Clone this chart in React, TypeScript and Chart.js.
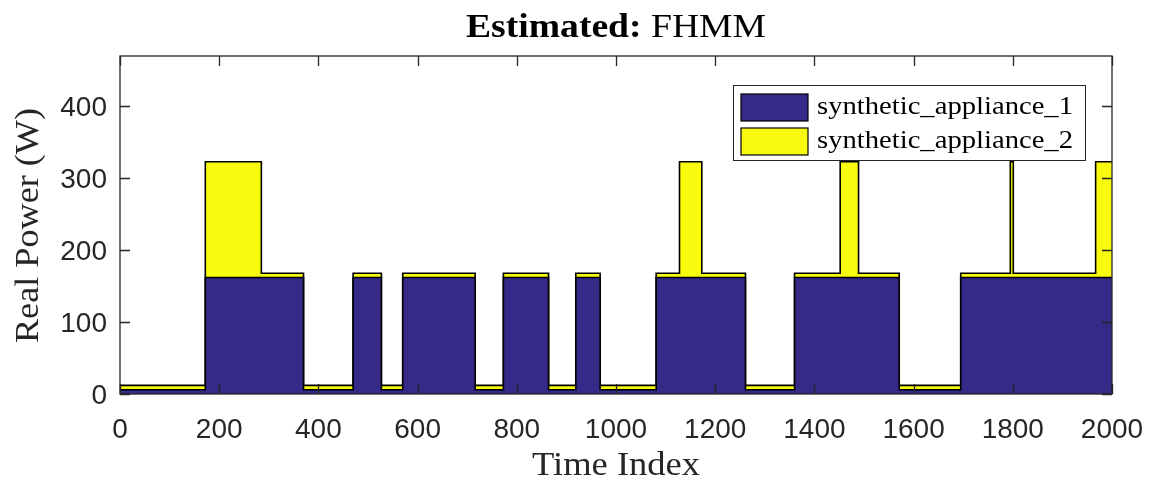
import React, { useEffect, useRef } from "react";
import { Chart, registerables } from "chart.js";

Chart.register(...registerables);

// ---- data ----
const app1Edges = [0, 172, 370, 470, 527, 570, 716, 773, 864, 919, 968, 1081, 1261, 1360, 1571, 1695, 2000];
const app1Levels = [6, 162, 6, 162, 6, 162, 6, 162, 6, 162, 6, 162, 6, 162, 6, 162];
const app2Edges = [0, 172, 285, 1128, 1173, 1452, 1489, 1795, 1801, 1967, 2000];
const app2Levels = [6, 161, 6, 161, 6, 161, 6, 161, 6, 161];
const seriesNames = ["synthetic_appliance_1", "synthetic_appliance_2"];
const xTicks = [0, 200, 400, 600, 800, 1000, 1200, 1400, 1600, 1800, 2000];
const yTicks = [0, 100, 200, 300, 400];
const titleBold = "Estimated:";
const titleRest = " FHMM";
const xTitle = "Time Index";
const yTitle = "Real Power (W)";

const BLUE = "#352A87";
const YELLOW = "#F9FB0E";
const AXIS = "#262626";
const SERIF = "'Liberation Serif', 'DejaVu Serif', serif";
const SANS = "'Liberation Sans', Arial, sans-serif";

function levelAt(edges: number[], levels: number[], x: number) {
  for (let i = 0; i < levels.length; i++) {
    if (x >= edges[i] && x < edges[i + 1]) return levels[i];
  }
  return levels[levels.length - 1];
}

function buildData() {
  const all = Array.from(new Set([...app1Edges, ...app2Edges])).sort((a, b) => a - b);
  const d1: { x: number; y: number }[] = [];
  const d2: { x: number; y: number }[] = [];
  for (let i = 0; i < all.length - 1; i++) {
    const mid = (all[i] + all[i + 1]) / 2;
    const a = levelAt(app1Edges, app1Levels, mid);
    const b = levelAt(app2Edges, app2Levels, mid);
    d1.push({ x: all[i], y: a }, { x: all[i + 1], y: a });
    d2.push({ x: all[i], y: a + b }, { x: all[i + 1], y: a + b });
  }
  return { d1, d2 };
}

// draw text at (x,y) left-aligned, stretched horizontally by sx
function drawStretched(ctx: CanvasRenderingContext2D, text: string, x: number, y: number, sx: number) {
  ctx.save();
  ctx.translate(x, y);
  ctx.scale(sx, 1);
  ctx.textAlign = "left";
  ctx.fillText(text, 0, 0);
  ctx.restore();
}

const decorPlugin = {
  id: "decor",
  afterDatasetsDraw(chart: any) {
    const ctx = chart.ctx as CanvasRenderingContext2D;
    const { left, right, top, bottom } = chart.chartArea;
    const xs = chart.scales.x;
    const ys = chart.scales.y;
    ctx.save();
    // box
    ctx.strokeStyle = AXIS;
    ctx.lineWidth = 1.3;
    ctx.strokeRect(left, top, right - left, bottom - top);
    // ticks inward
    const tl = 10;
    ctx.beginPath();
    xTicks.forEach((v) => {
      const px = Math.round(xs.getPixelForValue(v)) + 0.5;
      ctx.moveTo(px, bottom);
      ctx.lineTo(px, bottom - tl);
      ctx.moveTo(px, top);
      ctx.lineTo(px, top + tl);
    });
    yTicks.forEach((v) => {
      const py = Math.round(ys.getPixelForValue(v)) + 0.5;
      ctx.moveTo(left, py);
      ctx.lineTo(left + tl, py);
      ctx.moveTo(right, py);
      ctx.lineTo(right - tl, py);
    });
    ctx.stroke();

    // legend
    const lx = 733, ly = 85, lw = 352, lh = 75;
    ctx.fillStyle = "#ffffff";
    ctx.fillRect(lx, ly, lw, lh);
    ctx.strokeStyle = AXIS;
    ctx.lineWidth = 1;
    ctx.strokeRect(lx + 0.5, ly + 0.5, lw, lh);
    const swatches = [BLUE, YELLOW];
    ctx.textBaseline = "alphabetic";
    seriesNames.forEach((name, i) => {
      const sy = 94 + i * 34;
      ctx.fillStyle = swatches[i];
      ctx.fillRect(741, sy, 67, 27);
      ctx.strokeStyle = "#000";
      ctx.lineWidth = 1.2;
      ctx.strokeRect(741, sy, 67, 27);
      ctx.fillStyle = "#000";
      ctx.font = `25px ${SERIF}`;
      const w = ctx.measureText(name).width;
      drawStretched(ctx, name, 817, sy + 20, 256 / w);
    });

    // title
    ctx.fillStyle = "#000";
    ctx.textBaseline = "alphabetic";
    const boldFont = `bold 33px ${SERIF}`;
    const normFont = `33px ${SERIF}`;
    ctx.font = boldFont;
    const w1 = ctx.measureText(titleBold).width;
    ctx.font = normFont;
    const w2 = ctx.measureText(titleRest).width;
    const targetW = 300;
    const sx = targetW / (w1 + w2);
    const cx = (left + right) / 2;
    const start = cx - targetW / 2;
    ctx.font = boldFont;
    drawStretched(ctx, titleBold, start, 37, sx);
    ctx.font = normFont;
    drawStretched(ctx, titleRest, start + w1 * sx, 37, sx);

    // axis titles
    ctx.font = `33px ${SERIF}`;
    ctx.fillStyle = AXIS;
    const xw = ctx.measureText(xTitle).width;
    const xsx = 168 / xw;
    drawStretched(ctx, xTitle, cx - 84, 475, xsx);
    const yw = ctx.measureText(yTitle).width;
    ctx.save();
    ctx.translate(38, 343);
    ctx.rotate(-Math.PI / 2);
    drawStretched(ctx, yTitle, 0, 0, 235 / yw);
    ctx.restore();
    ctx.restore();
  },
};

export default function App() {
  const ref = useRef<HTMLCanvasElement | null>(null);
  useEffect(() => {
    document.body.style.margin = "0";
    const { d1, d2 } = buildData();
    const chart = new Chart(ref.current as HTMLCanvasElement, {
      type: "line",
      data: {
        datasets: [
          {
            label: seriesNames[0],
            data: d1,
            borderColor: "#000",
            borderWidth: 1.6,
            backgroundColor: BLUE,
            fill: "origin",
            pointRadius: 0,
            tension: 0,
          },
          {
            label: seriesNames[1],
            data: d2,
            borderColor: "#000",
            borderWidth: 1.6,
            backgroundColor: YELLOW,
            fill: "-1",
            pointRadius: 0,
            tension: 0,
          },
        ],
      },
      options: {
        responsive: false,
        animation: false,
        devicePixelRatio: 1,
        layout: { padding: { left: 0, right: 40, top: 56, bottom: 0 } },
        plugins: {
          legend: { display: false },
          title: { display: false },
          tooltip: { enabled: false },
        },
        scales: {
          x: {
            type: "linear",
            min: 0,
            max: 2000,
            grid: { display: false, drawTicks: false },
            border: { display: false },
            afterBuildTicks: (s: any) => {
              s.ticks = xTicks.map((v) => ({ value: v }));
            },
            afterFit: (s: any) => {
              s.height = 87;
              s.paddingLeft = 0;
              s.paddingRight = 0;
            },
            ticks: {
              autoSkip: false,
              maxRotation: 0,
              padding: 19,
              color: AXIS,
              font: { family: SANS, size: 28 },
              callback: (v: any) => String(v),
            },
          },
          y: {
            type: "linear",
            min: 0,
            max: 470,
            grid: { display: false, drawTicks: false },
            border: { display: false },
            afterBuildTicks: (s: any) => {
              s.ticks = yTicks.map((v) => ({ value: v }));
            },
            afterFit: (s: any) => {
              s.width = 120;
              s.paddingTop = 0;
              s.paddingBottom = 0;
            },
            ticks: {
              padding: 13,
              labelOffset: 2,
              color: AXIS,
              font: { family: SANS, size: 28 },
              callback: (v: any) => String(v),
            },
          },
        },
      },
      plugins: [decorPlugin],
    });
    return () => chart.destroy();
  }, []);
  return (
    <div style={{ width: 1152, height: 481 }}>
      <canvas ref={ref} width={1152} height={481} />
    </div>
  );
}
